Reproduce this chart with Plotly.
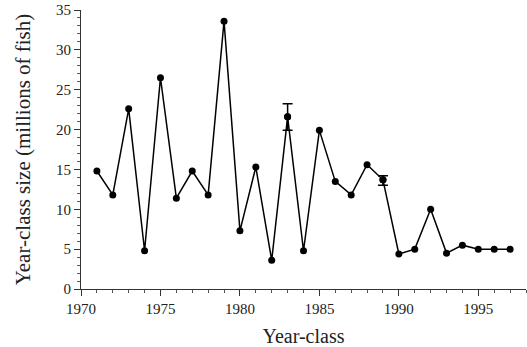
import plotly.graph_objects as go

# Year-class abundance series
years = list(range(1971, 1998))
sizes = [14.8, 11.8, 22.6, 4.8, 26.5, 11.4, 14.8, 11.8, 33.6, 7.3,
         15.3, 3.6, 21.6, 4.8, 19.9, 13.5, 11.8, 15.6, 13.7, 4.4,
         5.0, 10.0, 4.5, 5.5, 5.0, 5.0, 5.0]

# Year-classes with uncertainty estimates
err_years = [1983, 1989]
err_sizes = [21.6, 13.7]
err_plus = [1.65, 0.5]
err_minus = [1.7, 0.7]

font_family = "Liberation Serif, Times New Roman, serif"

fig = go.Figure()
fig.add_trace(go.Scatter(
    x=years, y=sizes, mode="lines+markers",
    line=dict(color="black", width=1.5),
    marker=dict(color="black", size=7),
    showlegend=False,
))
fig.add_trace(go.Scatter(
    x=err_years, y=err_sizes, mode="markers",
    marker=dict(color="black", size=7),
    error_y=dict(type="data", symmetric=False, array=err_plus,
                 arrayminus=err_minus, color="black", thickness=1.5, width=5),
    showlegend=False,
))

fig.update_layout(
    width=527, height=347,
    margin=dict(l=81, r=1, t=10, b=58),
    paper_bgcolor="white", plot_bgcolor="white",
    font=dict(family=font_family, color="#222", size=15),
    xaxis=dict(
        range=[1970, 1998], tickmode="array",
        tickvals=[1970, 1975, 1980, 1985, 1990, 1995],
        showgrid=False, zeroline=False, showline=True, linecolor="#333", linewidth=1,
        ticks="outside", ticklen=6, tickcolor="#333",
        minor=dict(dtick=1, tick0=1970, ticks="outside", ticklen=3, tickcolor="#555", showgrid=False),
        title=dict(text="Year-class", font=dict(size=20, family=font_family), standoff=14),
    ),
    yaxis=dict(
        range=[0, 35], dtick=5,
        showgrid=False, zeroline=False, showline=True, linecolor="#333", linewidth=1,
        ticks="outside", ticklen=6, tickcolor="#333",
        minor=dict(dtick=1, ticks="outside", ticklen=3, tickcolor="#555", showgrid=False),
        title=dict(text="Year-class size (millions of fish)", font=dict(size=21, family=font_family), standoff=19),
    ),
)

fig.write_html("out.html")
